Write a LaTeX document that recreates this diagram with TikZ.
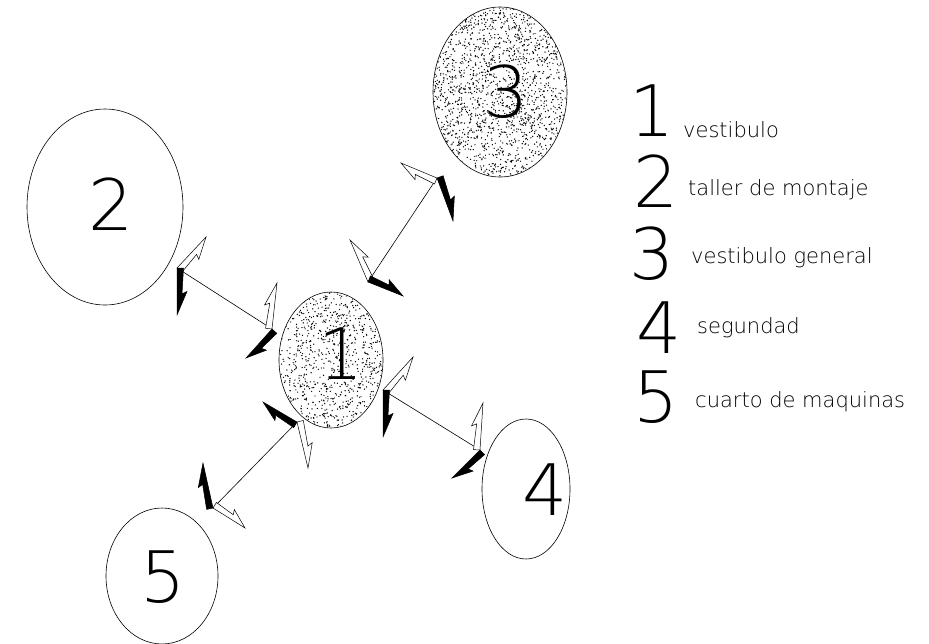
\documentclass[tikz,border=0pt]{standalone}
\usepackage{fontspec}
\setmainfont{DejaVu Sans}
\newfontfamily\trazo{DejaVu Sans ExtraLight}
\usetikzlibrary{shapes.geometric, calc}

% punta en zigzag: vertice, punta, lado, estilo
\newcommand{\rayo}[4]{%
  \filldraw[#4] (#1) -- ($(#1)!6.5pt!#3:(#2)$) -- ($(#1)!0.55!(#2)!5pt!#3:(#2)$)
    -- ($(#1)!0.5!(#2)!10pt!#3:(#2)$) -- (#2) -- cycle;}

\begin{document}
\begin{tikzpicture}[
    x=1pt, y=-1pt,
    sala/.style={ellipse, draw=black, line width=0.6pt, inner sep=0pt, outer sep=0pt},
    cifra/.style={font=\trazo\fontsize{71}{71}\selectfont, inner sep=0pt},
    texto/.style={font=\trazo\fontsize{21}{21}\selectfont, inner sep=0pt, anchor=base west},
    enlace/.style={line width=0.6pt},
    blanco/.style={draw=black, fill=white, line width=0.5pt, line join=miter},
    negro/.style={draw=black, fill=black, line width=0.5pt, line join=miter}
]
\useasboundingbox (0,0) rectangle (929,643);

% Salas
\node[sala, minimum width=104pt, minimum height=136pt] (r1) at (331,360) {};
\node[sala, minimum width=156pt, minimum height=196pt] (r2) at (105,207) {};
\node[sala, minimum width=134pt, minimum height=170pt] (r3) at (500,92) {};
\node[sala, minimum width=88pt, minimum height=140pt] (r4) at (526,489) {};
\node[sala, minimum width=112pt, minimum height=136pt] (r5) at (162,576) {};

% Punteado
\pgfmathsetseed{17}
\begin{scope}
  \clip (r1.center) ellipse [x radius=51.5, y radius=67.5];
  \foreach \i in {1,...,1000}
    \fill ($(r1.center)+(rand*52, rand*68)$) circle (0.7pt);
\end{scope}
\begin{scope}
  \clip (r3.center) ellipse [x radius=66.5, y radius=84.5];
  \foreach \i in {1,...,2000}
    \fill ($(r3.center)+(rand*67, rand*85)$) circle (0.7pt);
\end{scope}

% Numeros de las salas
\node[cifra] (n1) at ($(r1.center)+(10,-6)$) {1};
\node[cifra] (n2) at ($(r2.center)+(6,-3)$) {2};
\node[cifra] (n3) at ($(r3.center)+(6,0)$) {3};
\node[cifra] (n4) at ($(r4.center)+(19,1)$) {4};
\node[cifra] (n5) at ($(r5.center)+(1,1)$) {5};

% Extremos de los enlaces
\coordinate (e21a) at (177,268); \coordinate (e21b) at (272,329);
\coordinate (e13a) at (368,282); \coordinate (e13b) at (437,178);
\coordinate (e14a) at (383,390); \coordinate (e14b) at (480,450);
\coordinate (e51a) at (297,422); \coordinate (e51b) at (213,508);

% Enlaces
\draw[enlace] (e21a) -- (e21b);
\draw[enlace] (e13a) -- (e13b);
\draw[enlace] (e14a) -- (e14b);
\draw[enlace] (e51a) -- (e51b);

% Puntas
\rayo{e21a}{206,237}{-90}{blanco} \rayo{e21a}{177,315}{90}{negro}
\rayo{e21b}{277,283}{90}{blanco}  \rayo{e21b}{246,358}{90}{negro}
\rayo{e13a}{350,240}{-90}{blanco} \rayo{e13a}{403,296}{90}{negro}
\rayo{e13b}{401,163}{90}{blanco}  \rayo{e13b}{453,221}{90}{negro}
\rayo{e14a}{413,357}{-90}{blanco} \rayo{e14a}{383,437}{90}{negro}
\rayo{e14b}{483,403}{90}{blanco}  \rayo{e14b}{452,478}{90}{negro}
\rayo{e51a}{308,468}{90}{blanco}  \rayo{e51a}{263,402}{90}{negro}
\rayo{e51b}{245,528}{90}{blanco}  \rayo{e51b}{203,463}{90}{negro}

% Leyenda
\node[cifra] (l1) at (652,111) {1};
\node[cifra] (l2) at (656,181) {2};
\node[cifra] (l3) at (652,254) {3};
\node[cifra] (l4) at (659,328) {4};
\node[cifra] (l5) at (656,397) {5};
\node[texto] (t1) at (683,137) {vestibulo};
\node[texto] (t2) at (688,195) {taller de montaje};
\node[texto] (t3) at (691,263) {vestibulo general};
\node[texto] (t4) at (697,333) {segundad};
\node[texto] (t5) at (695,407) {cuarto de maquinas};

\end{tikzpicture}
\end{document}
